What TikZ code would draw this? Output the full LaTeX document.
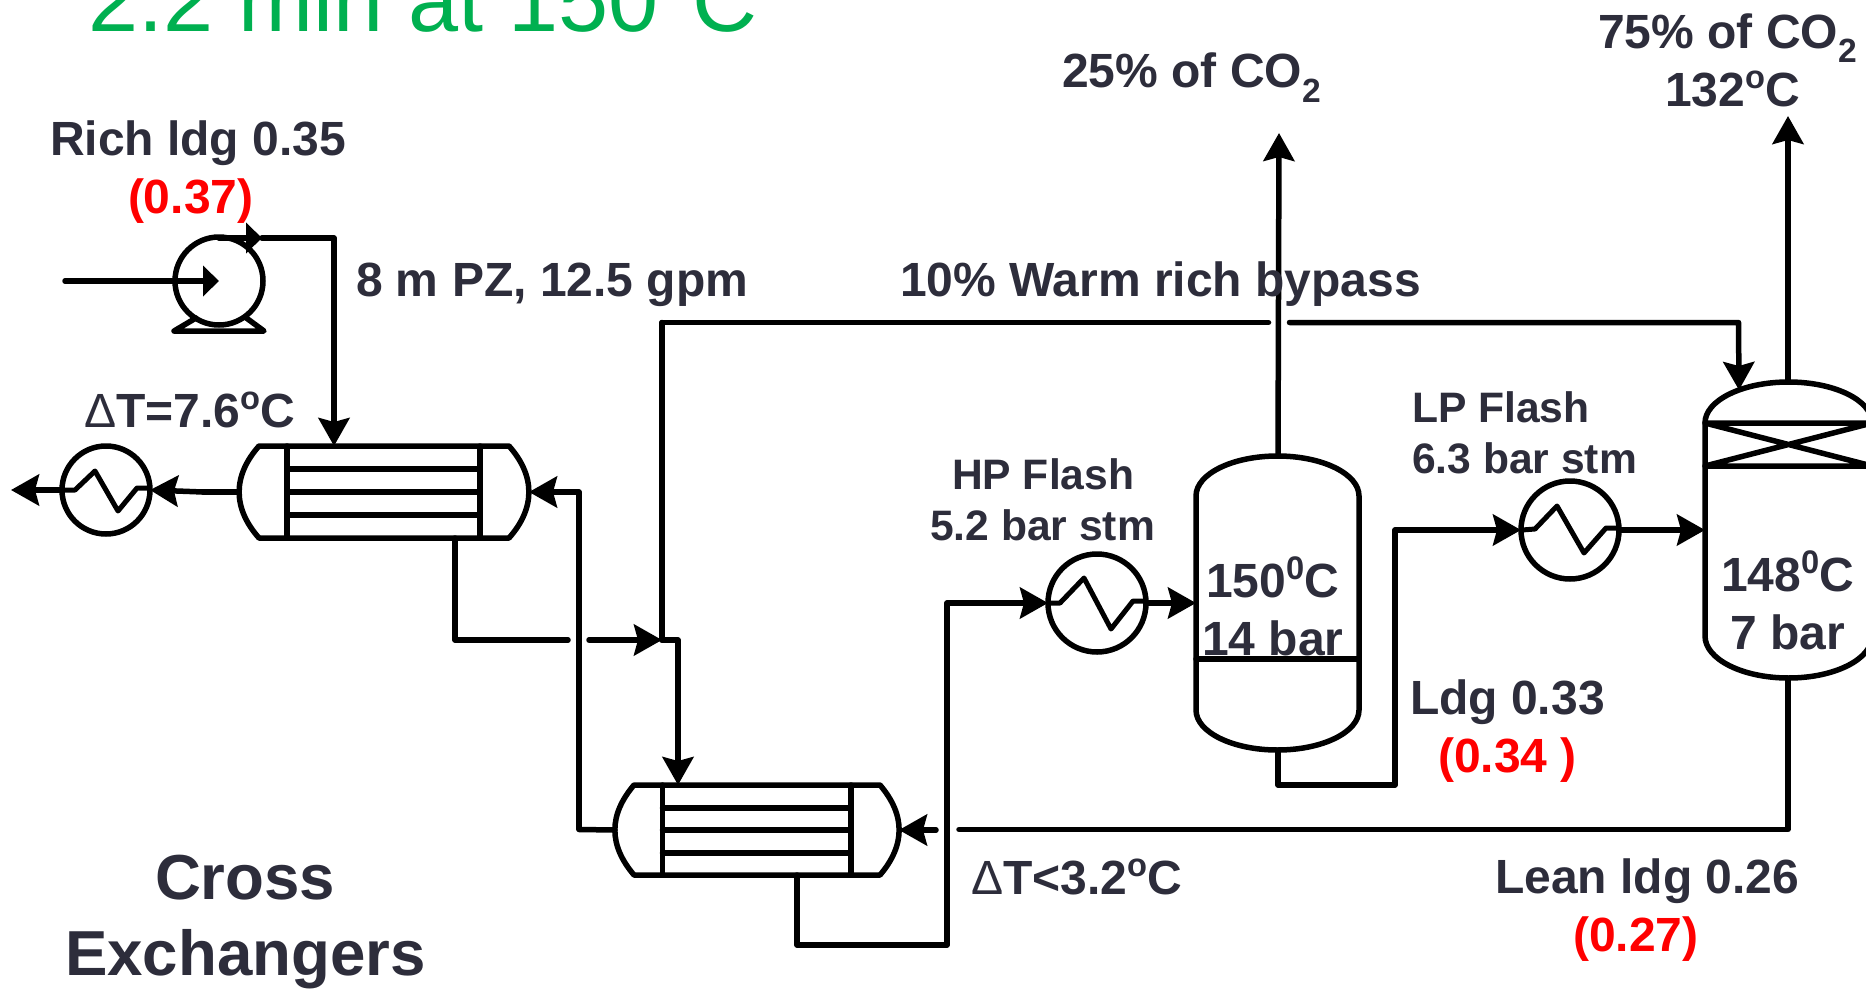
\documentclass[tikz,border=0pt]{standalone}
\usepackage{fontspec}
\setmainfont{Liberation Sans}
\usetikzlibrary{arrows.meta}
\definecolor{inkdark}{HTML}{2D2D3B}
\definecolor{titlegreen}{HTML}{00B050}
\newcommand{\fs}[1]{\fontsize{#1}{#1}\selectfont}
\newcommand{\suprs}[1]{\raisebox{.36em}{\scalebox{.68}{#1}}}
\newcommand{\degs}{\suprs{o}}
\newcommand{\zdeg}{\suprs{0}}
\newcommand{\dlt}{{\mdseries Δ}}
\tikzset{
  pipe/.style={line width=5.5pt,line cap=round,line join=round,black},
  pipeto/.style={pipe,-{Stealth[length=28pt,width=31pt,inset=4pt]}},
  shortto/.style={pipe,-{Stealth[length=16pt,width=30pt,inset=0pt]}},
  equip/.style={line width=5.5pt,line join=round,line cap=round,black},
  heater/.style={circle,draw,line width=5.5pt,black,minimum size=88pt,inner sep=0pt,outer sep=0pt},
  bigheater/.style={heater,minimum size=98pt},
  lbl/.style={anchor=base west,inner sep=0pt,outer sep=0pt,text=inkdark,font=\bfseries\fs{48}},
  redlbl/.style={lbl,text=red},
  small/.style={lbl,font=\bfseries\fs{42.6}},
  big/.style={lbl,font=\bfseries\fs{63.6}}
}
\begin{document}
\begin{tikzpicture}[x=1pt,y=-1pt]
\useasboundingbox (0,0) rectangle (1866,988);
\clip (0,0) rectangle (1866,988);
\fill[white] (0,0) rectangle (1866,988);
% title
\node[anchor=base west,inner sep=0pt,text=titlegreen,font=\fs{90}] (title) at (88,31) {2.2 min at 150\degs C};
% pump
\node[circle,draw,line width=5.5pt,minimum size=88pt,inner sep=0pt,outer sep=0pt] (pump) at (219,281) {};
\coordinate (pumpin) at (65,281);
\coordinate (pumphub) at (219,281);
\coordinate (pumpout) at (262,238);
\coordinate (pumptop) at (219,238);
\draw[equip] (196,318) -- (174,331) -- (264,331) -- (245,317);
% coolers and heaters
\node[heater] (cooler) at (106,490) {};
\node[bigheater] (hp) at (1097,603) {};
\node[bigheater] (lp) at (1570,530) {};
\draw[equip,line width=5pt] (64,490) -- (75,490) -- (95,471) -- (118,511) -- (137,488) -- (148,488);
\draw[equip,line width=5pt] (1051,603) -- (1060,603) -- (1084,578) -- (1111,629) -- (1133,601) -- (1146,601);
\draw[equip,line width=5pt] (1522,530) -- (1535,529) -- (1557,506) -- (1584,553) -- (1606,528) -- (1619,528);
% exchanger 1
\coordinate (ex1top) at (334,446);
\coordinate (ex1left) at (239,492);
\coordinate (ex1right) at (529,492);
\coordinate (ex1bot) at (455,538);
\draw[equip] (259,446) -- (509,446) .. controls (535.5,476) and (535.5,508) .. (509,538) -- (259,538) .. controls (232.5,508) and (232.5,476) .. (259,446) -- cycle;
\draw[equip] (287,446) -- (287,538) (480,446) -- (480,538) (287,469) -- (480,469) (287,492) -- (480,492) (287,515) -- (480,515);
% exchanger 2
\coordinate (ex2top) at (678,785);
\coordinate (ex2left) at (615,830);
\coordinate (ex2right) at (899,830);
\coordinate (ex2bot) at (797,875);
\draw[equip] (634,785) -- (880,785) .. controls (905.5,815) and (905.5,845) .. (880,875) -- (634,875) .. controls (608.5,845) and (608.5,815) .. (634,785) -- cycle;
\draw[equip] (662.5,785) -- (662.5,875) (851,785) -- (851,875) (662.5,808) -- (851,808) (662.5,830) -- (851,830) (662.5,853) -- (851,853);
% flash vessel
\coordinate (vtop) at (1278,456);
\coordinate (vbot) at (1278,750);
\coordinate (vfeed) at (1196,603);
\draw[equip] (1196,496) arc[start angle=180,end angle=0,x radius=81.5pt,y radius=40pt] -- (1359,710) arc[start angle=0,end angle=-180,x radius=81.5pt,y radius=40pt] -- cycle;
\draw[equip] (1196,659) -- (1359,659);
% column
\coordinate (ctop) at (1788,382);
\coordinate (cbot) at (1788,678);
\coordinate (cfeed) at (1705,530);
\coordinate (cdome) at (1739,390);
\draw[equip] (1705,423) arc[start angle=180,end angle=0,x radius=83.5pt,y radius=41pt] -- (1872,636) arc[start angle=0,end angle=-180,x radius=83.5pt,y radius=42pt] -- cycle;
\draw[equip] (1705,423) -- (1872,423) (1705,466) -- (1872,466) (1705,423) -- (1872,466) (1705,466) -- (1872,423);
% connectors
\draw[shortto] (pumpin) -- (pumphub);
\draw[shortto] (pumptop) -- (pumpout);
\draw[pipeto] (pumpout) -- (334,238) -- (ex1top);
\draw[pipe] (ex1left) -- (203,492);
\draw[pipeto] (203,492) -- (cooler.east);
\draw[pipeto] (cooler.west) -- (11,490);
\draw[pipeto] (579,829) -- (579,492) -- (ex1right);
\draw[pipe] (ex2left) -- (579,829.5);
\draw[pipe] (ex1bot) -- (455,640) -- (568,640);
\coordinate (mix) at (662,640);
\draw[pipeto] (589,640) -- (mix);
\draw[pipe] (662,322.5) -- (mix);
\draw[pipe] (662,322.5) -- (1268.5,322.5);
\draw[pipeto] (1289.5,322.5) -- (1738.5,322.5) -- (cdome);
\draw[pipeto] (mix) -- (678,640) -- (ex2top);
\draw[pipeto] (ex2bot) -- (797,945) -- (947,945) -- (947,603) -- (hp.west);
\draw[pipeto] (hp.east) -- (vfeed);
\draw[pipeto] (vtop) -- (1279,133);
\draw[pipeto] (vbot) -- (1278,785) -- (1395,785) -- (1395,530) -- (lp.west);
\draw[pipeto] (lp.east) -- (cfeed);
\draw[pipeto] (ctop) -- (1788,116);
\draw[pipe] (cbot) -- (1788,829.5) -- (959,829.5);
\draw[pipeto] (936,830) -- (ex2right);
% labels
\node[lbl] (t1) at (50,155) {Rich ldg 0.35};
\node[redlbl] (t2) at (128,213.5) {(0.37)};
\node[lbl] (t3) at (356,296) {8 m PZ, 12.5 gpm};
\node[lbl] (t4) at (900,296) {10\% Warm rich bypass};
\node[lbl] (t5) at (84,427) {\dlt T=7.6\degs C};
\node[lbl] (t6) at (1062,87.5) {25\% of CO\textsubscript{2}};
\node[lbl] (t7) at (1598,48) {75\% of CO\textsubscript{2}};
\node[lbl] (t8) at (1665,106) {132\degs C};
\node[small] (t9) at (1412,422) {LP Flash};
\node[small] (t10) at (1412,473) {6.3 bar stm};
\node[small] (t11) at (952,489) {HP Flash};
\node[small] (t12) at (930,540) {5.2 bar stm};
\node[lbl] (t13) at (1206,597) {150\zdeg C};
\node[lbl] (t14) at (1202,655) {14 bar};
\node[lbl] (t15) at (1721,591) {148\zdeg C};
\node[lbl] (t16) at (1730,649) {7 bar};
\node[lbl] (t17) at (1410,714) {Ldg 0.33};
\node[redlbl] (t18) at (1438,772) {(0.34 )};
\node[lbl] (t19) at (1495,893) {Lean ldg 0.26};
\node[redlbl] (t20) at (1573,951) {(0.27)};
\node[lbl] (t21) at (971,894) {\dlt T<3.2\degs C};
\node[big] (t22) at (155,899) {Cross};
\node[big] (t23) at (65,975) {Exchangers};
\end{tikzpicture}
\end{document}
